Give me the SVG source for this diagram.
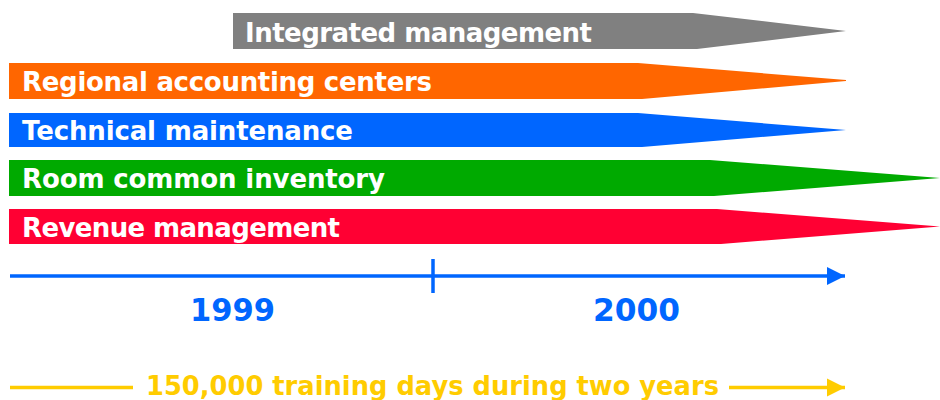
<svg xmlns="http://www.w3.org/2000/svg" width="940" height="400" viewBox="0 0 940 400">
  <style>
    .lbl { font-family: "DejaVu Sans", Verdana, sans-serif; font-weight: bold; fill: #ffffff; font-size: 26px; }
    .year { font-family: "DejaVu Sans", Verdana, sans-serif; font-weight: bold; fill: #0066ff; font-size: 32px; }
    .note { font-family: "DejaVu Sans", Verdana, sans-serif; font-weight: bold; fill: #ffcc00; font-size: 26px; }
  </style>
  <defs>
    <marker id="headBlue" viewBox="0 0 10 10" refX="10" refY="5" markerUnits="userSpaceOnUse" markerWidth="18" markerHeight="19" orient="auto">
      <path d="M0,0 L10,5 L0,10 Z" fill="#0066ff"/>
    </marker>
    <marker id="headYellow" viewBox="0 0 10 10" refX="10" refY="5" markerUnits="userSpaceOnUse" markerWidth="18" markerHeight="19" orient="auto">
      <path d="M0,0 L10,5 L0,10 Z" fill="#ffcc00"/>
    </marker>
  </defs>

  <g id="integrated-management">
    <path d="M233,13 L693,13 L846,31 L697,49 L233,49 Z" fill="#808080"/>
    <text class="lbl" x="245" y="42" textLength="347" lengthAdjust="spacing">Integrated management</text>
  </g>
  <g id="regional-accounting">
    <path d="M9,63 L638,63 L846,80 L846,81 L642,99 L9,99 Z" fill="#ff6600"/>
    <text class="lbl" x="22" y="90.5" textLength="410" lengthAdjust="spacing">Regional accounting centers</text>
  </g>
  <g id="technical-maintenance">
    <path d="M9,113 L638,113 L846,130 L642,147 L9,147 Z" fill="#0066ff"/>
    <text class="lbl" x="22" y="140" textLength="331" lengthAdjust="spacing">Technical maintenance</text>
  </g>
  <g id="room-inventory">
    <path d="M9,160 L710,160 L940,178 L714,196 L9,196 Z" fill="#00aa00"/>
    <text class="lbl" x="22" y="188" textLength="363" lengthAdjust="spacing">Room common inventory</text>
  </g>
  <g id="revenue-management">
    <path d="M9,209 L717,209 L940,226.5 L721,244 L9,244 Z" fill="#ff0033"/>
    <text class="lbl" x="22" y="236.5" textLength="318" lengthAdjust="spacing">Revenue management</text>
  </g>

  <g id="connectors">
    <line x1="10" y1="276" x2="845" y2="276" stroke="#0066ff" stroke-width="3.5" marker-end="url(#headBlue)"/>
    <line x1="433" y1="259" x2="433" y2="293" stroke="#0066ff" stroke-width="3.5"/>
    <line x1="10" y1="387.5" x2="133" y2="387.5" stroke="#ffcc00" stroke-width="3.5"/>
    <line x1="729" y1="387.5" x2="845" y2="387.5" stroke="#ffcc00" stroke-width="3.5" marker-end="url(#headYellow)"/>
  </g>

  <g id="years">
    <text class="year" x="190" y="320.5" textLength="85" lengthAdjust="spacingAndGlyphs">1999</text>
    <text class="year" x="593" y="320.5" textLength="87" lengthAdjust="spacingAndGlyphs">2000</text>
  </g>
  <g id="training-note">
    <text class="note" x="146" y="395" textLength="573" lengthAdjust="spacingAndGlyphs">150,000 training days during two years</text>
  </g>
</svg>
